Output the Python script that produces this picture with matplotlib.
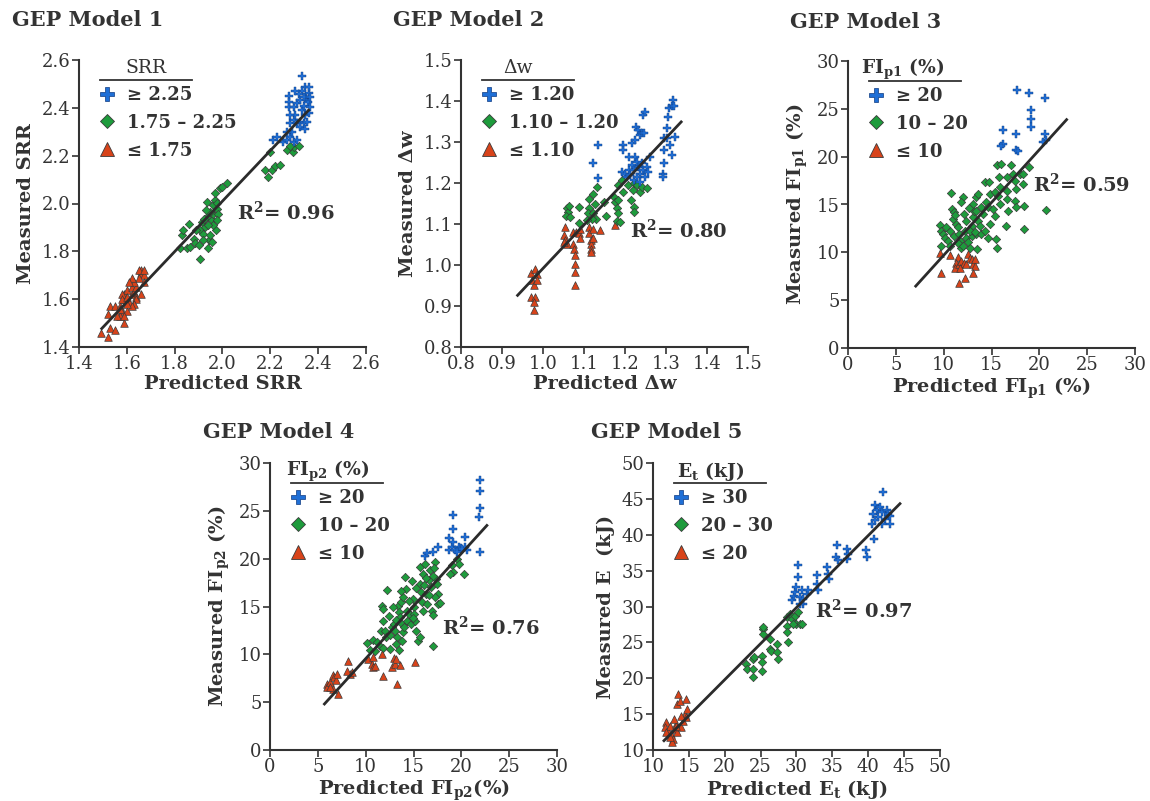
import numpy as np
import matplotlib
matplotlib.use('Agg')
import matplotlib.pyplot as plt
from matplotlib.lines import Line2D

plt.rcParams['font.family'] = ['DejaVu Serif']
plt.rcParams['mathtext.fontset'] = 'dejavuserif'

ink = '#333333'
blue = '#1f6fd6'
green = '#1e9b3c'
red = '#d8431a'
edge = '#3a3a3a'

# ---- GEP Model 1 : SRR (predicted, measured) ----
srr_high = np.array([
    [2.332, 2.533], [2.213, 2.265], [2.227, 2.276], [2.255, 2.258], [2.269, 2.265],
    [2.283, 2.279], [2.297, 2.258], [2.311, 2.265], [2.290, 2.300], [2.283, 2.335],
    [2.297, 2.349], [2.311, 2.335], [2.325, 2.342], [2.339, 2.335], [2.353, 2.342],
    [2.346, 2.370], [2.332, 2.391], [2.342, 2.407], [2.356, 2.425], [2.350, 2.446],
    [2.360, 2.463], [2.346, 2.486], [2.332, 2.472], [2.318, 2.458], [2.304, 2.472],
    [2.276, 2.449], [2.276, 2.425], [2.280, 2.405], [2.297, 2.402], [2.311, 2.419],
    [2.325, 2.433], [2.339, 2.446], [2.360, 2.488], [2.364, 2.446], [2.325, 2.321],
    [2.304, 2.370], [2.283, 2.370], [2.269, 2.300], [2.346, 2.310], [2.360, 2.377],
    [2.367, 2.405]])
srr_mid = np.array([
    [1.823, 1.812], [1.830, 1.867], [1.834, 1.888], [1.858, 1.916], [1.851, 1.812],
    [1.865, 1.819], [1.879, 1.853], [1.886, 1.833], [1.900, 1.826], [1.906, 1.770],
    [1.906, 1.888], [1.913, 1.923], [1.920, 1.874], [1.927, 1.902], [1.934, 1.944],
    [1.934, 2.007], [1.941, 1.812], [1.945, 1.847], [1.948, 1.867], [1.955, 1.930],
    [1.960, 1.958], [1.962, 1.993], [1.967, 2.014], [1.969, 2.042], [1.973, 1.888],
    [1.976, 1.979], [1.979, 2.000], [1.983, 1.958], [1.962, 1.909], [1.948, 1.965],
    [1.931, 1.972], [1.941, 1.909], [1.990, 2.063], [1.997, 2.070], [2.018, 2.084],
    [1.924, 1.937], [1.890, 1.888], [1.917, 1.847], [1.955, 1.840], [1.976, 1.930],
    [2.197, 2.216], [2.178, 2.142], [2.190, 2.112], [2.206, 2.140], [2.220, 2.158],
    [2.241, 2.161], [2.269, 2.223], [2.294, 2.216], [2.297, 2.237], [2.318, 2.240],
    [2.283, 2.240]])
srr_low = np.array([
    [1.49, 1.46], [1.52, 1.44], [1.53, 1.48], [1.55, 1.47], [1.52, 1.54], [1.53, 1.57],
    [1.55, 1.57], [1.57, 1.57], [1.58, 1.55], [1.59, 1.50], [1.57, 1.53], [1.59, 1.60],
    [1.59, 1.62], [1.60, 1.64], [1.62, 1.62], [1.61, 1.59], [1.60, 1.55], [1.62, 1.65],
    [1.63, 1.63], [1.64, 1.61], [1.64, 1.65], [1.66, 1.71], [1.66, 1.72], [1.67, 1.70],
    [1.65, 1.69], [1.63, 1.67], [1.62, 1.69], [1.61, 1.67], [1.58, 1.62], [1.58, 1.60],
    [1.64, 1.60], [1.66, 1.62], [1.67, 1.67], [1.65, 1.72], [1.67, 1.72], [1.63, 1.58],
    [1.62, 1.57], [1.60, 1.58], [1.56, 1.53], [1.57, 1.56], [1.59, 1.53], [1.60, 1.61]])
srr_fit_x = [1.495, 2.36]
srr_fit_y = [1.477, 2.39]

# ---- GEP Model 2 : delta w ----
dw_high = np.array([
    [1.133, 1.292], [1.121, 1.250], [1.133, 1.211], [1.196, 1.292], [1.196, 1.280],
    [1.192, 1.227], [1.200, 1.223], [1.205, 1.215], [1.209, 1.231], [1.213, 1.219],
    [1.217, 1.244], [1.221, 1.231], [1.225, 1.264], [1.229, 1.252], [1.233, 1.240],
    [1.237, 1.223], [1.241, 1.248], [1.245, 1.231], [1.249, 1.215], [1.253, 1.240],
    [1.257, 1.227], [1.221, 1.207], [1.229, 1.215], [1.237, 1.203], [1.217, 1.298],
    [1.225, 1.305], [1.227, 1.337], [1.231, 1.329], [1.237, 1.317], [1.245, 1.366],
    [1.249, 1.372], [1.241, 1.321], [1.247, 1.323], [1.294, 1.280], [1.294, 1.248],
    [1.292, 1.223], [1.292, 1.215], [1.294, 1.309], [1.302, 1.333], [1.304, 1.362],
    [1.308, 1.382], [1.318, 1.402], [1.314, 1.387], [1.320, 1.389], [1.310, 1.292],
    [1.314, 1.268], [1.322, 1.313], [1.302, 1.309], [1.261, 1.264], [1.209, 1.264]])
dw_mid = np.array([
    [1.058, 1.138], [1.062, 1.130], [1.056, 1.119], [1.066, 1.117], [1.064, 1.143],
    [1.089, 1.142], [1.089, 1.103], [1.111, 1.162], [1.113, 1.140], [1.109, 1.126],
    [1.123, 1.174], [1.127, 1.150], [1.131, 1.191], [1.123, 1.126], [1.129, 1.113],
    [1.120, 1.113], [1.107, 1.109], [1.148, 1.154], [1.154, 1.119], [1.172, 1.166],
    [1.176, 1.154], [1.180, 1.138], [1.182, 1.126], [1.184, 1.158], [1.180, 1.108],
    [1.188, 1.105], [1.184, 1.195], [1.192, 1.207], [1.208, 1.195], [1.219, 1.183],
    [1.221, 1.199], [1.215, 1.158], [1.223, 1.142], [1.221, 1.130], [1.229, 1.195],
    [1.236, 1.179], [1.241, 1.191], [1.253, 1.189], [1.196, 1.177]])
dw_low = np.array([
    [0.970, 0.981], [0.981, 0.991], [0.985, 0.979], [0.973, 0.963], [0.977, 0.951],
    [0.970, 0.922], [0.981, 0.922], [0.978, 0.910], [0.977, 0.891], [0.985, 0.963],
    [1.054, 1.093], [1.052, 1.073], [1.054, 1.060], [1.058, 1.052], [1.050, 1.056],
    [1.074, 1.081], [1.081, 1.081], [1.087, 1.077], [1.073, 1.052], [1.076, 1.040],
    [1.078, 1.024], [1.078, 1.003], [1.078, 0.983], [1.078, 0.951], [1.091, 1.089],
    [1.111, 1.093], [1.113, 1.077], [1.116, 1.060], [1.116, 1.052], [1.116, 1.040],
    [1.116, 1.032], [1.123, 1.089], [1.123, 1.067], [1.139, 1.085], [1.176, 1.097],
    [1.091, 1.067]])
dw_fit_x = [0.938, 1.337]
dw_fit_y = [0.926, 1.349]

# ---- GEP Model 3 : FIp1 (%) ----
fi1_high = np.array([
    [17.68, 26.95], [18.90, 26.67], [20.58, 26.18], [19.18, 24.85], [19.08, 23.97],
    [19.08, 23.10], [16.22, 22.82], [16.15, 21.28], [17.54, 22.33], [17.61, 20.72],
    [20.58, 22.40], [20.68, 21.77], [20.40, 21.53], [16.04, 21.11], [17.79, 20.55]])
fi1_mid = np.array([
    [9.59, 12.88], [9.77, 12.25], [9.94, 11.90], [10.12, 11.55], [9.77, 10.68],
    [10.81, 16.17], [10.92, 14.53], [11.06, 14.18], [10.64, 12.25], [10.46, 11.20],
    [10.71, 10.68], [11.13, 11.73], [11.34, 12.95], [11.51, 12.60], [11.62, 11.90],
    [11.69, 11.20], [11.86, 10.50], [12.03, 15.75], [12.10, 14.00], [12.21, 12.25],
    [12.38, 11.55], [12.56, 11.03], [12.73, 10.50], [12.91, 11.73], [13.01, 12.78],
    [13.08, 13.65], [13.18, 14.35], [13.08, 15.05], [13.43, 15.75], [13.60, 16.10],
    [13.43, 14.35], [13.60, 13.30], [13.78, 12.78], [13.36, 11.90], [13.50, 10.33],
    [13.95, 14.70], [14.13, 14.00], [14.47, 15.22], [14.65, 14.70], [14.30, 17.33],
    [14.75, 17.33], [14.82, 16.10], [14.89, 12.95], [14.65, 11.55], [15.35, 16.28],
    [15.52, 11.38], [15.59, 10.50], [15.59, 19.08], [16.04, 19.25], [15.80, 17.85],
    [15.87, 16.80], [15.70, 15.92], [15.94, 15.05], [15.35, 13.83], [16.57, 17.85],
    [16.64, 16.45], [16.57, 15.57], [16.74, 14.35], [16.50, 12.78], [17.09, 19.18],
    [17.20, 18.20], [17.44, 17.50], [17.61, 16.63], [17.44, 15.40], [17.61, 14.70],
    [17.96, 18.20], [18.31, 18.20], [18.31, 17.15], [18.38, 14.88], [18.38, 12.43],
    [18.94, 18.90], [20.68, 14.42], [15.17, 14.53], [11.86, 15.22], [10.99, 13.48],
    [10.29, 12.60], [12.38, 13.30], [12.73, 12.25], [13.88, 11.90], [14.30, 12.25],
    [11.20, 13.90], [12.60, 14.60], [13.30, 12.10], [11.50, 11.00], [12.00, 10.70]])
fi1_low = np.array([
    [9.59, 9.98], [9.77, 7.80], [10.71, 9.73], [11.51, 9.52], [11.34, 8.93],
    [11.16, 8.40], [11.62, 8.75], [11.86, 9.10], [12.10, 8.93], [12.31, 8.82],
    [12.56, 9.87], [12.80, 9.45], [13.01, 9.28], [13.08, 8.75], [13.25, 8.58],
    [13.25, 9.28], [13.08, 7.88], [11.58, 6.83], [12.21, 7.28], [11.69, 8.40]])
fi1_fit_x = [7.08, 22.85]
fi1_fit_y = [6.47, 23.87]

# ---- GEP Model 4 : FIp2 (%) ----
fi2_high = np.array([
    [16.22, 20.33], [16.46, 20.58], [17.02, 20.68], [17.61, 21.21], [18.66, 22.18],
    [19.18, 23.13], [19.18, 24.52], [18.76, 20.86], [19.01, 21.21], [19.18, 21.73],
    [19.36, 20.86], [19.71, 21.21], [19.95, 21.14], [20.40, 22.25], [20.40, 21.21],
    [20.58, 20.86], [20.06, 21.03], [21.97, 28.18], [21.97, 27.07], [21.90, 25.32],
    [21.80, 24.35], [21.97, 20.68], [19.53, 20.68]])
fi2_mid = np.array([
    [10.18, 11.16], [10.74, 11.51], [10.46, 10.46], [10.99, 10.39], [11.51, 10.92],
    [11.68, 15.10], [11.79, 14.75], [11.86, 13.53], [11.58, 12.49], [12.03, 12.49],
    [12.14, 11.79], [12.28, 16.74], [11.86, 10.67], [12.56, 10.57], [12.73, 12.84],
    [12.91, 13.18], [13.08, 12.49], [13.25, 11.79], [13.18, 11.09], [13.43, 15.10],
    [13.53, 14.40], [13.60, 13.88], [13.67, 15.45], [13.78, 13.18], [13.88, 12.31],
    [13.78, 11.44], [13.53, 10.46], [13.95, 15.97], [14.13, 18.07], [14.23, 16.85],
    [14.30, 14.58], [14.37, 13.53], [14.65, 14.06], [14.72, 13.18], [14.82, 17.65],
    [14.93, 15.80], [15.00, 14.93], [15.07, 14.23], [15.17, 13.53], [15.28, 12.49],
    [15.52, 11.44], [15.63, 11.79], [15.70, 17.37], [15.77, 16.50], [15.87, 15.45],
    [15.98, 14.58], [15.70, 19.11], [16.04, 18.42], [16.22, 19.46], [16.32, 16.32],
    [16.46, 15.28], [16.57, 17.72], [16.74, 18.84], [16.81, 17.02], [16.92, 14.58],
    [17.02, 14.06], [17.09, 10.88], [17.27, 19.64], [17.37, 17.89], [17.44, 17.37],
    [17.51, 16.32], [17.61, 15.28], [17.27, 15.97], [17.72, 15.34], [19.01, 19.39],
    [19.18, 18.59], [19.53, 19.99], [19.71, 19.46], [20.23, 18.42], [18.80, 18.40],
    [12.40, 14.00], [12.90, 15.00], [13.20, 13.60], [14.00, 12.90], [14.50, 15.60],
    [15.30, 16.90], [16.10, 17.20], [16.60, 16.20], [17.00, 18.20], [13.70, 16.60],
    [11.20, 11.30], [12.50, 12.00], [14.90, 13.80], [16.30, 18.00], [17.10, 19.00]])
fi2_low = np.array([
    [5.93, 6.91], [6.00, 6.56], [6.28, 7.08], [6.56, 7.88], [6.70, 7.60],
    [6.91, 7.32], [7.05, 7.95], [7.15, 5.86], [6.63, 6.38], [6.28, 6.56],
    [8.20, 9.28], [8.37, 7.95], [8.02, 8.30], [8.54, 8.13], [10.29, 9.52],
    [10.64, 9.00], [10.81, 9.70], [10.74, 8.65], [10.99, 8.82], [11.68, 10.05],
    [11.86, 7.78], [12.73, 8.65], [12.91, 9.63], [13.08, 9.00], [13.25, 6.91],
    [13.60, 8.93], [13.18, 9.52], [15.17, 9.17]])
fi2_fit_x = [5.69, 22.67]
fi2_fit_y = [4.81, 23.47]

# ---- GEP Model 5 : Et (kJ) ----
et_high = np.array([
    [29.44, 30.84], [29.63, 31.53], [29.77, 32.00], [29.99, 32.70], [30.23, 35.72],
    [30.14, 34.09], [30.47, 31.30], [30.70, 32.23], [30.93, 31.07], [31.40, 31.77],
    [31.63, 32.23], [30.93, 30.37], [30.47, 30.37], [32.79, 33.16], [32.88, 34.33],
    [33.02, 32.23], [34.19, 35.49], [34.42, 34.56], [34.56, 33.86], [35.58, 38.51],
    [35.49, 36.88], [35.81, 36.42], [36.98, 38.05], [36.98, 36.65], [37.21, 37.35],
    [39.67, 37.81], [39.77, 36.88], [40.79, 39.44], [40.47, 41.53], [40.70, 42.93],
    [40.93, 44.09], [41.16, 43.40], [41.40, 42.47], [41.63, 43.86], [41.86, 43.16],
    [42.09, 45.95], [42.33, 42.23], [42.56, 43.40], [42.79, 42.93], [43.02, 41.53],
    [41.86, 41.53], [43.02, 42.56], [40.93, 42.00]])
et_mid = np.array([
    [23.02, 22.00], [23.12, 21.30], [23.95, 22.70], [23.95, 21.30], [23.95, 20.14],
    [24.09, 22.93], [25.26, 23.16], [25.26, 22.23], [25.26, 21.07], [25.35, 26.88],
    [25.35, 26.19], [25.35, 27.21], [26.28, 25.49], [26.28, 24.09], [26.51, 23.86],
    [27.30, 24.79], [27.30, 23.63], [27.44, 22.70], [28.70, 28.51], [28.70, 27.35],
    [28.70, 26.42], [28.84, 25.02], [29.07, 28.98], [29.44, 28.28], [29.77, 28.74],
    [29.99, 27.58], [30.23, 29.21], [30.47, 27.58], [30.70, 27.58], [29.53, 27.58]])
et_low = np.array([
    [11.86, 13.86], [11.63, 13.16], [12.09, 12.70], [12.33, 13.40], [12.56, 12.23],
    [12.79, 11.53], [12.70, 11.07], [13.02, 12.93], [13.16, 13.63], [13.35, 12.47],
    [13.49, 17.81], [13.35, 16.42], [13.72, 16.88], [13.95, 13.16], [14.19, 14.09],
    [14.42, 15.02], [14.65, 17.12], [14.74, 15.72], [14.56, 14.56], [12.33, 11.77],
    [13.26, 13.40], [11.86, 12.47], [12.88, 14.33], [13.95, 14.79]])
et_fit_x = [11.53, 44.42]
et_fit_y = [11.30, 44.33]


def draw_panel(ax, high, mid, low, fit_x, fit_y, lim, step, fmt,
               xlabel, ylabel, leg_title, leg_labels, title_x, title_bold, r2, r2_pos):
    ax.scatter(low[:, 0], low[:, 1], marker='^', s=30, c=red,
               edgecolors=edge, linewidths=0.5, zorder=3)
    ax.scatter(mid[:, 0], mid[:, 1], marker='D', s=18, c=green,
               edgecolors=edge, linewidths=0.5, zorder=3)
    ax.scatter(high[:, 0], high[:, 1], marker='P', s=28, c=blue,
               edgecolors='#0d3a80', linewidths=0.3, zorder=4)
    ax.plot(fit_x, fit_y, color='#2b2b2b', lw=2, zorder=5)

    ticks = np.arange(lim[0], lim[1] + step / 2, step)
    ax.set_xlim(lim)
    ax.set_ylim(lim)
    ax.set_xticks(ticks)
    ax.set_yticks(ticks)
    ax.set_xticklabels([fmt.format(t) for t in ticks])
    ax.set_yticklabels([fmt.format(t) for t in ticks])
    for side in ['top', 'right']:
        ax.spines[side].set_visible(False)
    for side in ['left', 'bottom']:
        ax.spines[side].set_linewidth(1.5)
        ax.spines[side].set_color(ink)
    ax.tick_params(direction='out', length=5, width=1.2, labelsize=13,
                   colors=ink, pad=1)
    ax.set_xlabel(xlabel, fontsize=14, weight='bold', color=ink, labelpad=1)
    ax.set_ylabel(ylabel, fontsize=14, weight='bold', color=ink, labelpad=5)

    # legend with underlined title
    ax.text(title_x, 0.972, leg_title, transform=ax.transAxes, ha='center',
            va='center', fontsize=13.5, color=ink,
            weight='bold' if title_bold else 'normal')
    ax.plot([0.073, 0.394], [0.930, 0.930], transform=ax.transAxes,
            color=ink, lw=1.3, clip_on=False)
    handles = [
        Line2D([], [], marker='P', ls='none', ms=10, mfc=blue, mec='#0d3a80', mew=0.5),
        Line2D([], [], marker='D', ls='none', ms=7.5, mfc=green, mec=edge, mew=0.6),
        Line2D([], [], marker='^', ls='none', ms=10, mfc=red, mec=edge, mew=0.6),
    ]
    leg = ax.legend(handles, leg_labels, loc='upper left', bbox_to_anchor=(0.066, 0.91),
                    frameon=False, prop={'size': 13, 'weight': 'bold'},
                    handlelength=1.0, handletextpad=0.6, labelspacing=0.55,
                    borderpad=0, borderaxespad=0)
    for t in leg.get_texts():
        t.set_color(ink)

    ax.text(r2_pos[0], r2_pos[1], r2, transform=ax.transAxes, ha='left',
            va='center', fontsize=14, weight='bold', color=ink)


fig = plt.figure(figsize=(11.5, 8.01), dpi=100)
W, H = 1150, 801


def add_axes(left, top, size=287):
    return fig.add_axes([left / W, 1 - (top + size) / H, size / W, size / H])


ax1 = add_axes(79, 60)
ax2 = add_axes(461, 60)
ax3 = add_axes(848, 61)
ax4 = add_axes(270, 463)
ax5 = add_axes(653, 463)

r2_prefix = r'R$^{\mathbf{2}}$= '
draw_panel(ax1, srr_high, srr_mid, srr_low, srr_fit_x, srr_fit_y, (1.4, 2.6), 0.2, '{:.1f}',
           'Predicted SRR', 'Measured SRR', 'SRR',
           ['≥ 2.25', '1.75 – 2.25', '≤ 1.75'], 0.233, False,
           r2_prefix + '0.96', (0.55, 0.471))
draw_panel(ax2, dw_high, dw_mid, dw_low, dw_fit_x, dw_fit_y, (0.8, 1.5), 0.1, '{:.1f}',
           'Predicted Δw', 'Measured Δw', 'Δw',
           ['≥ 1.20', '1.10 – 1.20', '≤ 1.10'], 0.20, False,
           r2_prefix + '0.80', (0.59, 0.407))
draw_panel(ax3, fi1_high, fi1_mid, fi1_low, fi1_fit_x, fi1_fit_y, (0, 30), 5, '{:.0f}',
           r'Predicted FI$_{\mathbf{p1}}$ (%)', r'Measured FI$_{\mathbf{p1}}$ (%)',
           r'FI$_{\mathbf{p1}}$ (%)',
           ['≥ 20', '10 – 20', '≤ 10'], 0.19, True,
           r2_prefix + '0.59', (0.645, 0.572))
draw_panel(ax4, fi2_high, fi2_mid, fi2_low, fi2_fit_x, fi2_fit_y, (0, 30), 5, '{:.0f}',
           r'Predicted FI$_{\mathbf{p2}}$(%)', r'Measured FI$_{\mathbf{p2}}$ (%)',
           r'FI$_{\mathbf{p2}}$ (%)',
           ['≥ 20', '10 – 20', '≤ 10'], 0.20, True,
           r2_prefix + '0.76', (0.599, 0.428))
draw_panel(ax5, et_high, et_mid, et_low, et_fit_x, et_fit_y, (10, 50), 5, '{:.0f}',
           r'Predicted E$_{\mathbf{t}}$ (kJ)', 'Measured E  (kJ)',
           r'E$_{\mathbf{t}}$ (kJ)',
           ['≥ 30', '20 – 30', '≤ 20'], 0.20, True,
           r2_prefix + '0.97', (0.564, 0.486))

titles = ['GEP Model 1', 'GEP Model 2', 'GEP Model 3', 'GEP Model 4', 'GEP Model 5']
title_pos = [(12, 20), (393, 20), (790, 22), (203, 432), (591, 432)]
for name, (tx, ty) in zip(titles, title_pos):
    fig.text(tx / W, 1 - ty / H, name, fontsize=15, weight='bold', color=ink,
             ha='left', va='center')

fig.savefig('out.png', dpi=100)
